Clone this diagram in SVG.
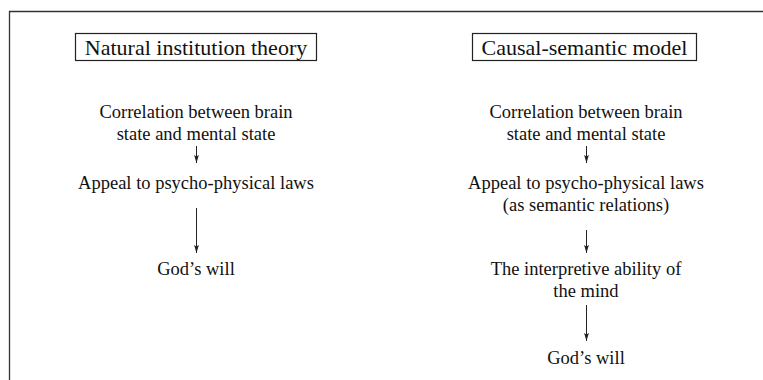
<svg xmlns="http://www.w3.org/2000/svg" width="763" height="380" viewBox="0 0 763 380">
<defs>
<style>
text{font-family:"Liberation Serif","DejaVu Serif",serif;fill:#111;text-anchor:middle}
.b{font-size:18.5px}
.t{font-size:22px}
.box{fill:none;stroke:#222;stroke-width:1.2}
.c{stroke:#222;stroke-width:1;fill:none}
</style>
<marker id="ah" viewBox="0 0 8 6" refX="8" refY="3" markerWidth="8" markerHeight="6" markerUnits="userSpaceOnUse" orient="auto">
<path d="M0,0.6 L8,3 L0,5.4 L1.6,3 Z" fill="#222"/>
</marker>
</defs>
<rect width="763" height="380" fill="#fff"/>
<path d="M9.5,380 V11.5 H763" fill="none" stroke="#333" stroke-width="1.3"/>
<g id="title-left"><rect class="box" x="75.5" y="33.5" width="241" height="27"/><text class="t" x="196" y="54.5">Natural institution theory</text></g>
<g id="title-right"><rect class="box" x="472.5" y="33.5" width="224" height="27"/><text class="t" x="584.5" y="54.5">Causal-semantic model</text></g>
<g id="l1"><text class="b" x="196" y="118">Correlation between brain</text><text class="b" x="196" y="140">state and mental state</text></g>
<g id="l2"><text class="b" x="196" y="189">Appeal to psycho-physical laws</text></g>
<g id="l3"><text class="b" x="196" y="275">God’s will</text></g>
<g id="r1"><text class="b" x="586" y="118">Correlation between brain</text><text class="b" x="586" y="140">state and mental state</text></g>
<g id="r2"><text class="b" x="586" y="189">Appeal to psycho-physical laws</text><text class="b" x="586" y="211">(as semantic relations)</text></g>
<g id="r3"><text class="b" x="586" y="275">The interpretive ability of</text><text class="b" x="586" y="297">the mind</text></g>
<g id="r4"><text class="b" x="586" y="364">God’s will</text></g>
<g id="connectors">
<line class="c" x1="196.5" y1="146" x2="196.5" y2="163" marker-end="url(#ah)"/>
<line class="c" x1="196.5" y1="208" x2="196.5" y2="253" marker-end="url(#ah)"/>
<line class="c" x1="586.5" y1="146" x2="586.5" y2="163" marker-end="url(#ah)"/>
<line class="c" x1="586.5" y1="230" x2="586.5" y2="253" marker-end="url(#ah)"/>
<line class="c" x1="586.5" y1="305" x2="586.5" y2="341" marker-end="url(#ah)"/>
</g>
</svg>
